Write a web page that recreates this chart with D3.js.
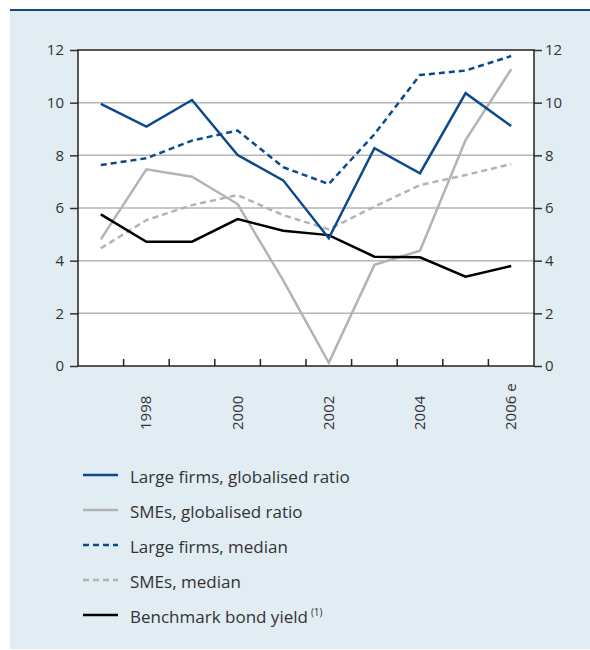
<!DOCTYPE html>
<html>
<head>
<meta charset="utf-8">
<script src="https://cdn.jsdelivr.net/npm/d3@7"></script>
<style>
  body { margin: 0; background: #fff; }
  text { font-family: "Open Sans", "Noto Sans", sans-serif; fill: #333; }
</style>
</head>
<body>
<script>
const years = [1997, 1998, 1999, 2000, 2001, 2002, 2003, 2004, 2005, 2006];
const yearLabels = {1998: "1998", 2000: "2000", 2002: "2002", 2004: "2004", 2006: "2006 e"};
const yTicks = [0, 2, 4, 6, 8, 10, 12];

const largeRatio = [9.95, 9.09, 10.1, 8.01, 7.05, 4.85, 8.27, 7.32, 10.36, 9.11];
const smeRatio = [4.81, 7.47, 7.19, 6.15, 3.25, 0.12, 3.84, 4.38, 8.58, 11.27];
const largeMedian = [7.63, 7.89, 8.56, 8.94, 7.55, 6.91, 8.8, 11.05, 11.22, 11.77];
const smeMedian = [4.47, 5.54, 6.11, 6.49, 5.73, 5.19, 6.05, 6.87, 7.25, 7.67];
const bondYield = [5.76, 4.72, 4.72, 5.58, 5.14, 4.97, 4.15, 4.13, 3.39, 3.8];

const series = [
  {name: "Large firms, globalised ratio", values: largeRatio, color: "#0b4a8b", dash: null},
  {name: "SMEs, globalised ratio", values: smeRatio, color: "#b3b3b3", dash: null},
  {name: "Large firms, median", values: largeMedian, color: "#0b4a8b", dash: "6,4"},
  {name: "SMEs, median", values: smeMedian, color: "#b3b3b3", dash: "6,4"},
  {name: "Benchmark bond yield", values: bondYield, color: "#000", dash: null, note: "(1)"}
];

const width = 590, height = 650;
const plot = {left: 78, right: 534, top: 50, bottom: 366};

const svg = d3.select("body").append("svg")
  .attr("width", width)
  .attr("height", height);

// panel background + top rule
svg.append("rect")
  .attr("x", 10).attr("y", 10)
  .attr("width", width - 10).attr("height", 639)
  .attr("fill", "#e1ecf3");
svg.append("line")
  .attr("x1", 10).attr("x2", width)
  .attr("y1", 10).attr("y2", 10)
  .attr("stroke", "#0b4a8b").attr("stroke-width", 2);

const x = d3.scaleBand().domain(years).range([plot.left, plot.right]);
const y = d3.scaleLinear().domain([0, 12]).range([plot.bottom, plot.top]);

svg.append("rect")
  .attr("x", plot.left).attr("y", plot.top)
  .attr("width", plot.right - plot.left).attr("height", plot.bottom - plot.top)
  .attr("fill", "#fff");

// grid
svg.append("g")
  .selectAll("line")
  .data(yTicks.filter(d => d > 0 && d < 12))
  .join("line")
  .attr("x1", plot.left).attr("x2", plot.right)
  .attr("y1", d => y(d)).attr("y2", d => y(d))
  .attr("stroke", "#b5b5b5").attr("stroke-width", 1.5);

// axes
const leftAxis = svg.append("g")
  .attr("transform", `translate(${plot.left},0)`)
  .call(d3.axisLeft(y).tickValues(yTicks).tickSize(8).tickPadding(6));
const rightAxis = svg.append("g")
  .attr("transform", `translate(${plot.right},0)`)
  .call(d3.axisRight(y).tickValues(yTicks).tickSize(8).tickPadding(3));
[leftAxis, rightAxis].forEach(a => {
  a.select(".domain").remove();
  a.selectAll(".tick line").attr("stroke", "#333").attr("stroke-width", 1.5);
  a.selectAll("text").style("font-size", "15px").attr("fill", "#333");
});

// frame
svg.append("rect")
  .attr("x", plot.left).attr("y", plot.top)
  .attr("width", plot.right - plot.left).attr("height", plot.bottom - plot.top)
  .attr("fill", "none").attr("stroke", "#222").attr("stroke-width", 1.5);

// x band ticks (inside, pointing up)
svg.append("g")
  .selectAll("line")
  .data(years.slice(1))
  .join("line")
  .attr("x1", d => x(d)).attr("x2", d => x(d))
  .attr("y1", plot.bottom).attr("y2", plot.bottom - 7)
  .attr("stroke", "#222").attr("stroke-width", 1.5);

// year labels
svg.append("g")
  .selectAll("text")
  .data(years.filter(d => yearLabels[d]))
  .join("text")
  .attr("transform", d => `translate(${x(d) + x.bandwidth() / 2 + 5},430) rotate(-90)`)
  .attr("text-anchor", "start")
  .style("font-size", "15px")
  .text(d => yearLabels[d]);

// lines
const line = d3.line()
  .x((d, i) => x(years[i]) + x.bandwidth() / 2)
  .y(d => y(d));

const drawOrder = [3, 2, 1, 4, 0];
svg.append("g")
  .selectAll("path")
  .data(drawOrder.map(i => series[i]))
  .join("path")
  .attr("d", d => line(d.values))
  .attr("fill", "none")
  .attr("stroke", d => d.color)
  .attr("stroke-width", 2.5)
  .attr("stroke-dasharray", d => d.dash)
  .attr("stroke-linejoin", "miter");

// legend
const legend = svg.append("g")
  .selectAll("g")
  .data(series)
  .join("g")
  .attr("transform", (d, i) => `translate(83,${475 + i * 35})`);

legend.append("line")
  .attr("x1", 0).attr("x2", 35)
  .attr("stroke", d => d.color)
  .attr("stroke-width", 2.5)
  .attr("stroke-dasharray", d => d.dash);

const lt = legend.append("text")
  .attr("x", 47).attr("y", 7.5)
  .style("font-size", "17px");
lt.append("tspan").text(d => d.name);
lt.filter(d => d.note).append("tspan")
  .attr("dx", 3).attr("dy", -7)
  .style("font-size", "10px")
  .text(d => d.note);
</script>
</body>
</html>
